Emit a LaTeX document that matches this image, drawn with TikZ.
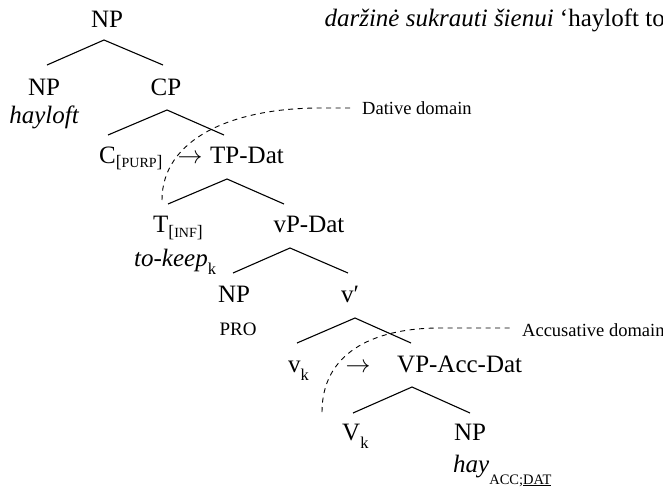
\documentclass[tikz,border=0pt]{standalone}
\usepackage{fontspec}
\setmainfont{Liberation Serif}
\newcommand\brk[1]{{\fontsize{17.5}{17.5}\selectfont[{\fontsize{14}{14}\selectfont #1}]}}
\newcommand\subk{{\fontsize{16.5}{16.5}\selectfont k}}
\newcommand\rarr{$\rightarrow$}
\begin{document}
\begin{tikzpicture}[x=1pt,y=-1pt,
  lab/.style={font=\fontsize{25}{30}\selectfont, inner sep=0pt, anchor=base},
  labw/.style={lab, anchor=base west},
  br/.style={line width=1.1pt},
  dom/.style={line width=0.9pt, dash pattern=on 5pt off 4.5pt},
  domlab/.style={font=\fontsize{18.5}{22}\selectfont, inner sep=0pt, anchor=west}]
\useasboundingbox (0,0) rectangle (663,490);
% top gloss
\node[font=\fontsize{25}{30}\selectfont, inner sep=0pt, anchor=base east] (gloss) at (665,26) {\textit{daržinė sukrauti šienui} ‘hayloft to};
% nodes
\node[lab] (np0) at (107,27) {NP};
\node[lab] (np1) at (44,95) {NP};
\node[lab, font=\fontsize{25}{30}\selectfont\itshape] (hayloft) at (44,123) {hayloft};
\node[lab] (cp) at (166,95) {CP};
\node[labw] (c) at (99,163) {C\raisebox{-4pt}{\brk{PURP}}};
\node[lab] (arr1) at (190,163) {\rarr};
\node[lab] (tp) at (247,163) {TP-Dat};
\node[labw] (t) at (153,232) {T\raisebox{-5pt}{\brk{INF}}};
\node[labw, font=\fontsize{25}{30}\selectfont\itshape] (tokeep) at (134,266) {to-keep\raisebox{-8pt}{\upshape\subk}};
\node[lab] (vp) at (309,232) {vP-Dat};
\node[lab] (np2) at (234,302) {NP};
\node[lab, font=\fontsize{19}{22}\selectfont] (pro) at (238,335) {PRO};
\node[lab] (vbar) at (350,302) {v′};
\node[labw] (vk) at (288,372) {v\raisebox{-8pt}{\subk}};
\node[lab] (arr2) at (358,372) {\rarr};
\node[labw] (vpacc) at (397,372) {VP-Acc-Dat};
\node[labw] (Vk) at (342,440) {V\raisebox{-8pt}{\subk}};
\node[lab] (np3) at (470,440) {NP};
\node[labw] (hay) at (453,472) {\textit{hay}\raisebox{-12pt}{\fontsize{14.5}{14.5}\selectfont ACC;\underline{DAT}}};
% branch points
\coordinate (a0) at (104,40); \coordinate (l0) at (47,65); \coordinate (r0) at (163,65);
\coordinate (a1) at (167,110); \coordinate (l1) at (108,135); \coordinate (r1) at (224,135);
\coordinate (a2) at (227,179); \coordinate (l2) at (168,204); \coordinate (r2) at (284,204);
\coordinate (a3) at (290,248); \coordinate (l3) at (233,273); \coordinate (r3) at (348,273);
\coordinate (a4) at (355,318); \coordinate (l4) at (297,343); \coordinate (r4) at (411,343);
\coordinate (a5) at (412,387); \coordinate (l5) at (353,413); \coordinate (r5) at (470,413);
\draw[br] (l0) -- (a0) -- (r0);
\draw[br] (l1) -- (a1) -- (r1);
\draw[br] (l2) -- (a2) -- (r2);
\draw[br] (l3) -- (a3) -- (r3);
\draw[br] (l4) -- (a4) -- (r4);
\draw[br] (l5) -- (a5) -- (r5);
% domains
\node[domlab] (datl) at (362,108) {Dative domain};
\coordinate (ds) at (162,200); \coordinate (de) at (352,108);
\draw[dom] (ds) .. controls (162,140) and (230,108) .. (320,108) -- (de);
\node[domlab] (accl) at (522,330) {Accusative domain};
\coordinate (as) at (322,412); \coordinate (ae) at (513,328);
\draw[dom] (as) .. controls (322,355) and (370,328) .. (440,328) -- (ae);
\end{tikzpicture}
\end{document}
